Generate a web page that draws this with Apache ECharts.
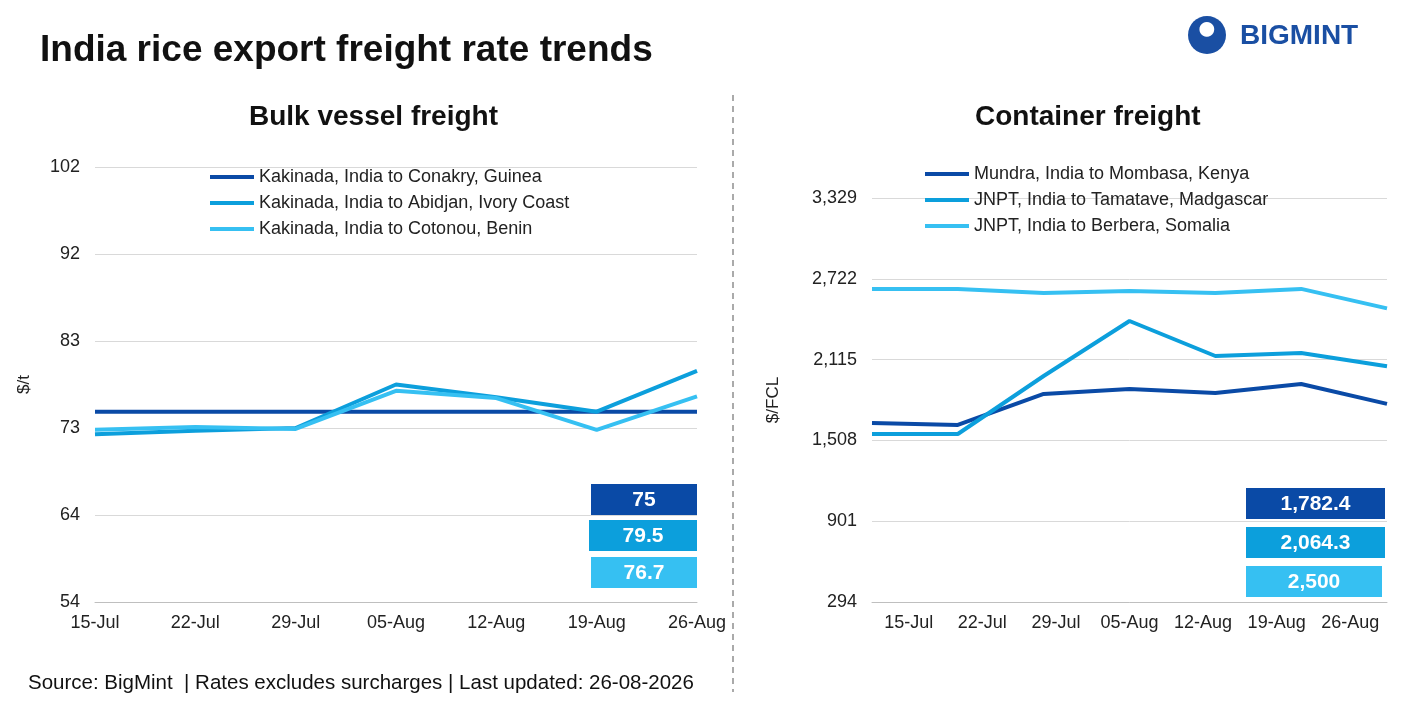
<!DOCTYPE html><html><head><meta charset="utf-8">
<script src="https://cdn.jsdelivr.net/npm/echarts@6/dist/echarts.min.js"></script>
<style>html,body{margin:0;background:#fff}#c{width:1418px;height:708px}</style></head><body><div id="c"></div>
<script>
const categories=['15-Jul','22-Jul','29-Jul','05-Aug','12-Aug','19-Aug','26-Aug'];
const bulkNames=['Kakinada, India to Conakry, Guinea','Kakinada, India to Abidjan, Ivory Coast','Kakinada, India to Cotonou, Benin'];
const conakry=[75,75,75,75,75,75,75];
const abidjan=[72.5,72.9,73.2,78,76.6,75,79.5];
const cotonou=[73,73.3,73.1,77.3,76.5,73,76.7];
const contNames=['Mundra, India to Mombasa, Kenya','JNPT, India to Tamatave, Madgascar','JNPT, India to Berbera, Somalia'];
const mundra=[1639,1624,1857,1894,1864,1932,1782.4];
const tamatave=[1556,1556,1992,2405,2142,2165,2064.3];
const berbera=[2646,2646,2616,2631,2616,2646,2500];
const colors=['#0a4aa6','#0c9fdc','#36c0f2'];
const F='Liberation Sans, Arial, sans-serif';
const fmt=v=>Math.round(v).toLocaleString('en-US');
const fmt1=v=>v.toLocaleString('en-US',{maximumFractionDigits:1});
const chart=echarts.init(document.getElementById('c'));
function box(x,y,w,v,c){return {type:'group',left:x,top:y,children:[{type:'rect',shape:{width:w,height:31},style:{fill:c}},{type:'text',style:{text:fmt1(v),x:w/2,y:16,align:'center',verticalAlign:'middle',fill:'#fff',font:'bold 21px '+F}}]};}
const lab={color:'#222',fontSize:18,fontFamily:F,margin:12,interval:0};
const ax={type:'category',data:categories,boundaryGap:false,position:'bottom',axisTick:{show:false},axisLine:{lineStyle:{color:'#bfbfbf'}},axisLabel:lab};
const ser=(n,d,i,ax)=>({name:n,type:'line',data:d,xAxisIndex:ax,yAxisIndex:ax,symbol:'none',lineStyle:{width:4,color:colors[i]},itemStyle:{color:colors[i]}});
const ylab={formatter:v=>fmt(v),color:'#222',fontSize:18,fontFamily:F,margin:15};
chart.setOption({animation:false,
 grid:[{left:95,right:721,top:167,bottom:106},{left:872,right:31,top:198,bottom:106}],
 xAxis:[Object.assign({gridIndex:0},ax),Object.assign({gridIndex:1},ax,{axisLabel:{show:false}}),
   {gridIndex:1,type:'category',data:categories,boundaryGap:true,position:'bottom',offset:0,axisTick:{show:false},axisLine:{show:false},axisLabel:lab}],
 yAxis:[{gridIndex:0,type:'value',min:54,max:102,interval:9.6,name:'$/t',nameLocation:'middle',nameGap:62,nameTextStyle:{fontSize:17,color:'#222',fontFamily:F},axisLabel:ylab,splitLine:{lineStyle:{color:'#d9d9d9'}}},
        {gridIndex:1,type:'value',min:294,max:3329,interval:607,name:'$/FCL',nameLocation:'middle',nameGap:90,nameTextStyle:{fontSize:17,color:'#222',fontFamily:F},axisLabel:ylab,splitLine:{lineStyle:{color:'#d9d9d9'}}}],
 legend:[{data:bulkNames,left:205,top:163,orient:'vertical',itemGap:8,itemWidth:44,itemHeight:4,icon:'rect',textStyle:{fontSize:18,color:'#222',fontFamily:F}},
         {data:contNames,left:920,top:160,orient:'vertical',itemGap:8,itemWidth:44,itemHeight:4,icon:'rect',textStyle:{fontSize:18,color:'#222',fontFamily:F}}],
 series:[ser(bulkNames[0],conakry,0,0),ser(bulkNames[1],abidjan,1,0),ser(bulkNames[2],cotonou,2,0),
         ser(contNames[0],mundra,0,1),ser(contNames[1],tamatave,1,1),ser(contNames[2],berbera,2,1)],
 graphic:[
  {type:'text',left:40,top:32,style:{text:'India rice export freight rate trends',font:'bold 37px '+F,fill:'#111'}},
  {type:'text',left:249,top:103,style:{text:'Bulk vessel freight',font:'bold 28px '+F,fill:'#111'}},
  {type:'text',left:975,top:103,style:{text:'Container freight',font:'bold 28px '+F,fill:'#111'}},
  {type:'text',left:28,top:673,style:{text:'Source: BigMint  | Rates excludes surcharges | Last updated: 26-08-2026',font:'20.5px '+F,fill:'#111'}},
  {type:'line',shape:{x1:733,y1:95,x2:733,y2:692},style:{stroke:'#aaa',lineWidth:2,lineDash:[6,5]}},
  box(591,484,106,conakry[6],colors[0]),box(589,520,108,abidjan[6],colors[1]),box(591,557,106,cotonou[6],colors[2]),
  box(1246,488,139,mundra[6],colors[0]),box(1246,527,139,tamatave[6],colors[1]),box(1246,566,136,berbera[6],colors[2]),
  {type:'circle',shape:{cx:1207,cy:35,r:19},style:{fill:'#1a4fa3'}},
  {type:'text',left:1199,top:22,style:{text:'⬤',font:'bold 14px '+F,fill:'#fff'}},
  {type:'text',left:1240,top:22,style:{text:'BIGMINT',font:'bold 28px '+F,fill:'#1a4fa3'}}
 ]});
</script></body></html>
